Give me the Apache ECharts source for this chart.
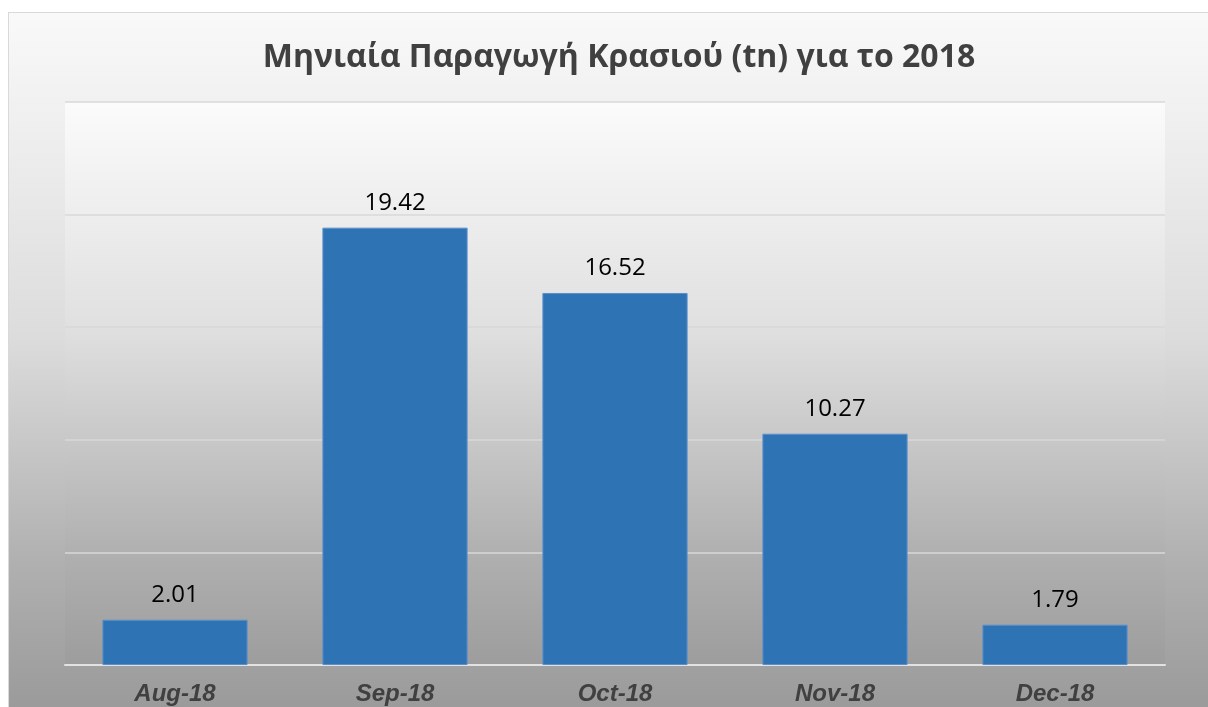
<!DOCTYPE html>
<html>
<head>
<meta charset="utf-8">
<script src="https://cdn.jsdelivr.net/npm/echarts@6/dist/echarts.min.js"></script>
<style>
  html, body { margin: 0; padding: 0; background: #ffffff; overflow: hidden; }
  #chart {
    position: absolute;
    left: 8px;
    top: 12px;
    width: 1210px;
    height: 705px;
    border: 1px solid #d9d9d9;
  }
</style>
</head>
<body>
<div id="chart"></div>
<script>
const months = ["Aug-18", "Sep-18", "Oct-18", "Nov-18", "Dec-18"];
const production = [2.01, 19.42, 16.52, 10.27, 1.79];
const titleText = "Μηνιαία Παραγωγή Κρασιού (tn) για το 2018";

const chart = echarts.init(document.getElementById("chart"));

const option = {
  animation: false,
  backgroundColor: new echarts.graphic.LinearGradient(0, 0, 0, 1, [
    { offset: 0, color: "#f9f9f9" },
    { offset: 0.46, color: "#dcdcdc" },
    { offset: 0.78, color: "#b0b0b0" },
    { offset: 1, color: "#999999" },
  ]),
  title: {
    text: titleText,
    left: 605,
    top: 24,
    textAlign: "center",
    textStyle: {
      fontFamily: "Open Sans",
      fontWeight: "bold",
      fontSize: 32,
      color: "#404040",
    },
  },
  grid: {
    left: 56,
    top: 89,
    width: 1100,
    height: 563,
    show: true,
    borderWidth: 0,
    backgroundColor: new echarts.graphic.LinearGradient(0, 0, 0, 1, [
      { offset: 0, color: "#fbfbfb" },
      { offset: 0.4, color: "#e0e0e0" },
      { offset: 0.8, color: "#b0b0b0" },
      { offset: 1, color: "#9d9d9d" },
    ]),
  },
  xAxis: {
    type: "category",
    data: months,
    axisTick: { show: false },
    axisLine: { show: true, lineStyle: { color: "#e2e2e2", width: 2 } },
    axisLabel: {
      margin: 17,
      fontFamily: "Liberation Sans",
      fontStyle: "italic",
      fontWeight: "bold",
      fontSize: 24,
      color: "#404040",
    },
  },
  yAxis: {
    type: "value",
    min: 0,
    max: 25,
    interval: 5,
    axisLabel: { show: false },
    axisLine: { show: false },
    axisTick: { show: false },
    splitLine: { lineStyle: { color: "#d9d9d9", width: 1.5 } },
  },
  series: [
    {
      type: "bar",
      data: production,
      barWidth: "66%",
      itemStyle: {
        color: "#2e74b5",
        borderColor: "#5b8fc9",
        borderWidth: 1,
      },
      label: {
        show: true,
        position: "top",
        distance: 13,
        formatter: (p) => p.value.toFixed(2),
        fontFamily: "Open Sans",
        fontSize: 24,
        color: "#000000",
      },
    },
  ],
};

chart.setOption(option);
</script>
</body>
</html>
